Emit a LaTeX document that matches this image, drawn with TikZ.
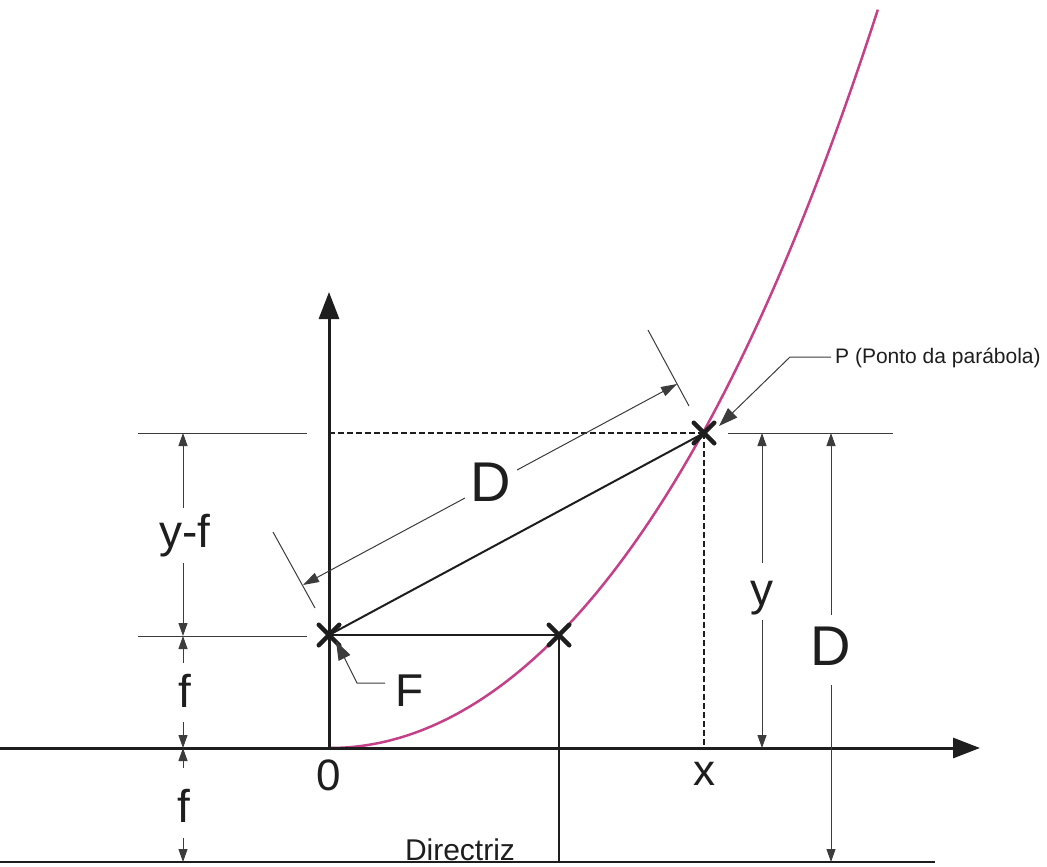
\documentclass[tikz,border=0pt]{standalone}
\usepackage{fontspec}
\setmainfont{Liberation Sans}
\usetikzlibrary{arrows.meta,shapes.misc}
\definecolor{ink}{RGB}{30,30,30}
\definecolor{fine}{RGB}{60,60,60}
\definecolor{parabcol}{RGB}{196,64,136}
\begin{document}
\begin{tikzpicture}[x=1pt,y=-1pt,
  axisln/.style={ink,line width=3pt,-{Triangle[length=27pt,width=20pt]}},
  mainln/.style={ink,line width=2pt},
  dirln/.style={ink,line width=2.5pt},
  dashln/.style={ink,line width=2pt,dash pattern=on 6pt off 3pt},
  dimln/.style={fine,line width=1pt,-{Triangle[length=13pt,width=9pt]}},
  slantdim/.style={fine,line width=1pt,-{Triangle[length=16pt,width=10pt]}},
  extln/.style={fine,line width=1pt},
  leader/.style={fine,line width=1pt,-{Triangle[length=19pt,width=13pt]}},
  xmark/.style={draw=ink,cross out,line width=4.5pt,line cap=round,minimum size=16pt,inner sep=0pt},
  big/.style={font=\fontsize{46}{50}\selectfont,text=ink,inner sep=0pt},
  bigD/.style={font=\fontsize{56}{60}\selectfont,text=ink,inner sep=0pt},
  small/.style={font=\fontsize{21}{25}\selectfont,text=ink,inner sep=0pt},
  mid/.style={font=\fontsize{30}{34}\selectfont,text=ink,inner sep=0pt}]
\useasboundingbox (0,0) rectangle (1047,867);
\fill[white] (0,0) rectangle (1047,867);

% key points
\coordinate (O) at (329,748);
\coordinate (F) at (329,635);
\coordinate (Q) at (559,635);
\coordinate (P) at (704,433);
\coordinate (Xleft) at (0,748);
\coordinate (Xtip) at (980,748);
\coordinate (Ytip) at (329,292);
\coordinate (Dl) at (0,862);
\coordinate (Dr) at (935,862);
\coordinate (Qd) at (559,862);
\coordinate (Py) at (329,433);
\coordinate (Px) at (704,748);

% parabola
\draw[parabcol,line width=2.5pt] plot[domain=0:5.48,samples=120,variable=\u]
  ({330+100*\u},{748-21*\u*\u-0.12*\u*\u*\u*\u});

% axes and directrix
\draw[axisln] (Xleft) -- (Xtip);
\draw[axisln] (O) -- (Ytip);
\draw[dirln] (Dl) -- (Dr);

% construction lines
\draw[mainln] (F) -- (Q);
\draw[mainln] (Q) -- (Qd);
\draw[mainln] (F) -- (P);
\draw[dashln] (Py) -- (P);
\draw[dashln] (P) -- (Px);

% crosses
\node[xmark] (Fm) at (F) {};
\node[xmark] (Qm) at (Q) {};
\node[xmark] (Pm) at (P) {};

% left extension lines
\coordinate (e1a) at (138,433); \coordinate (e1b) at (307,433);
\coordinate (e2a) at (138,636); \coordinate (e2b) at (307,636);
\draw[extln] (e1a) -- (e1b);
\draw[extln] (e2a) -- (e2b);

% left dimensions
\coordinate (a1) at (183,433); \coordinate (a2) at (183,508);
\coordinate (a3) at (183,563); \coordinate (a4) at (183,636);
\coordinate (a5) at (183,663); \coordinate (a6) at (183,722);
\coordinate (a7) at (183,748); \coordinate (a8) at (183,768);
\coordinate (a9) at (183,838); \coordinate (a10) at (183,862);
\draw[dimln] (a2) -- (a1);
\draw[dimln] (a3) -- (a4);
\draw[dimln] (a5) -- (a4);
\draw[dimln] (a6) -- (a7);
\draw[dimln] (a8) -- (a7);
\draw[dimln] (a9) -- (a10);
\node[big] (lyf) at (185,536) {y-f};
\node[big] (lf1) at (185,691) {f};
\node[big] (lf2) at (184,806) {f};

% right extension line
\coordinate (e3a) at (728,433); \coordinate (e3b) at (893,433);
\draw[extln] (e3a) -- (e3b);

% right dimensions
\coordinate (b1) at (762,433); \coordinate (b2) at (762,563);
\coordinate (b3) at (762,620); \coordinate (b4) at (762,748);
\coordinate (c1) at (831,433); \coordinate (c2) at (831,615);
\coordinate (c3) at (831,685); \coordinate (c4) at (831,862);
\draw[dimln] (b2) -- (b1);
\draw[dimln] (b3) -- (b4);
\draw[dimln] (c2) -- (c1);
\draw[dimln] (c3) -- (c4);
\node[big] (ly) at (762,598) {y};
\node[bigD] (lD2) at (831,646) {D};

% slanted dimension D
\coordinate (t1a) at (273,532); \coordinate (t1b) at (315,608);
\coordinate (t2a) at (648,330); \coordinate (t2b) at (689,406);
\draw[extln] (t1a) -- (t1b);
\draw[extln] (t2a) -- (t2b);
\coordinate (s1) at (465,498); \coordinate (s2) at (303,585);
\coordinate (s3) at (517,470); \coordinate (s4) at (677,384);
\draw[slantdim] (s1) -- (s2);
\draw[slantdim] (s3) -- (s4);
\node[bigD] (lD1) at (491,482) {D};

% labels 0 and x
\node[font=\fontsize{44}{48}\selectfont,text=ink,inner sep=0pt] (l0) at (329,775) {0};
\node[font=\fontsize{44}{48}\selectfont,text=ink,inner sep=0pt] (lx) at (704,774) {x};

% F label with leader
\node[big] (lF) at (410,691) {F};
\coordinate (f1) at (385,683); \coordinate (f2) at (357,683); \coordinate (f3) at (336,641);
\draw[leader] (f1) -- (f2) -- (f3);

% P label with leader
\node[small,anchor=west] (lP) at (835,358) {P (Ponto da parábola)};
\coordinate (p1) at (831,357); \coordinate (p2) at (790,357); \coordinate (p3) at (719,426);
\draw[leader] (p1) -- (p2) -- (p3);

% directrix label
\node[mid,anchor=base] (ldir) at (460,860) {Directriz};
\end{tikzpicture}
\end{document}
